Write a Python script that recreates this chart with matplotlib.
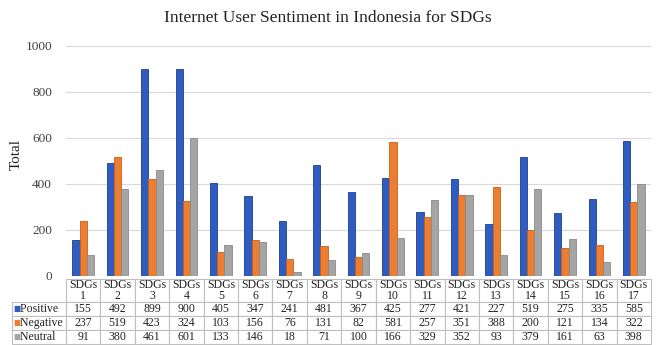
import matplotlib
matplotlib.use("Agg")
import matplotlib.pyplot as plt
from matplotlib.table import Table
import numpy as np

plt.rcParams['font.family'] = ['Liberation Serif', 'DejaVu Serif']

categories = [f"SDGs\n{i}" for i in range(1, 18)]
series_names = ["Positive", "Negative", "Neutral"]
positive = [155, 492, 899, 900, 405, 347, 241, 481, 367, 425, 277, 421, 227, 519, 275, 335, 585]
negative = [237, 519, 423, 324, 103, 156, 76, 131, 82, 581, 257, 351, 388, 200, 121, 134, 322]
neutral = [91, 380, 461, 601, 133, 146, 18, 71, 100, 166, 329, 352, 93, 379, 161, 63, 398]
yticks = [0, 200, 400, 600, 800, 1000]

colors = ["#2F5CC0", "#ED7D31", "#A5A5A5"]
edges = ["#1F3D8A", "#C8601A", "#8A8A8A"]
series = [positive, negative, neutral]

fig = plt.figure(figsize=(6.56, 3.45), dpi=100)
ax = fig.add_axes([66/656, 1-276/345, 585/656, 230/345])

x = np.arange(len(categories))
w = 0.21
for i, (vals, c, e) in enumerate(zip(series, colors, edges)):
    ax.bar(x + (i-1)*w, vals, width=w, color=c, edgecolor=e, linewidth=0.6, zorder=3)

ax.set_xlim(-0.5, len(categories)-0.5)
ax.set_ylim(0, 1000)
ax.set_yticks(yticks)
ax.set_yticklabels([str(t) for t in yticks], fontsize=9.5, color="#404040")
ax.set_xticks([])
ax.tick_params(axis='y', length=0, pad=10)
ax.grid(axis='y', color="#D9D9D9", linewidth=0.8, zorder=0)
for s in ax.spines.values():
    s.set_visible(False)
fig.text(16/656, 1-155/345, "Total", rotation=90, ha='center', va='center',
         fontsize=11, color="#222222")

fig.text(0.5, 1-18/345, "Internet User Sentiment in Indonesia for SDGs",
         ha='center', va='center', fontsize=12.5, color="#222222")

# table
lw_frac = 54/585
colw = 1/17
hh = 23/230
rh = 14/230
top = -3/230
total_h = hh + 3*rh
tbl = Table(ax, bbox=[-lw_frac, top - total_h, 1 + lw_frac, total_h])
tbl.auto_set_font_size(False)
ec = "#BFBFBF"
c0 = tbl.add_cell(0, 0, width=lw_frac, height=hh, text="", loc='left')
c0.visible_edges = ''
for j, cat in enumerate(categories):
    cell = tbl.add_cell(0, j+1, width=colw, height=hh, text=cat, loc='center', edgecolor=ec)
for r, (name, vals) in enumerate(zip(series_names, series)):
    cell = tbl.add_cell(r+1, 0, width=lw_frac, height=rh, text="  " + name, loc='left', edgecolor=ec)
    for j, v in enumerate(vals):
        tbl.add_cell(r+1, j+1, width=colw, height=rh, text=str(v), loc='center', edgecolor=ec)
for key, cell in tbl.get_celld().items():
    cell.set_linewidth(0.8)
    cell.get_text().set_fontsize(8.5)
    cell.get_text().set_color("#222222")
    cell.PAD = 0.04
    if key[0] == 0:
        cell.get_text().set_linespacing(0.95)
ax.add_table(tbl)

for r, c in enumerate(colors):
    yc = top - hh - rh*(r + 0.5)
    ax.text(-lw_frac + 0.003, yc, "■", color=c, fontsize=5.5, ha='left', va='center',
            transform=ax.transAxes, clip_on=False, family='DejaVu Sans')

fig.savefig("out.png", dpi=100)
